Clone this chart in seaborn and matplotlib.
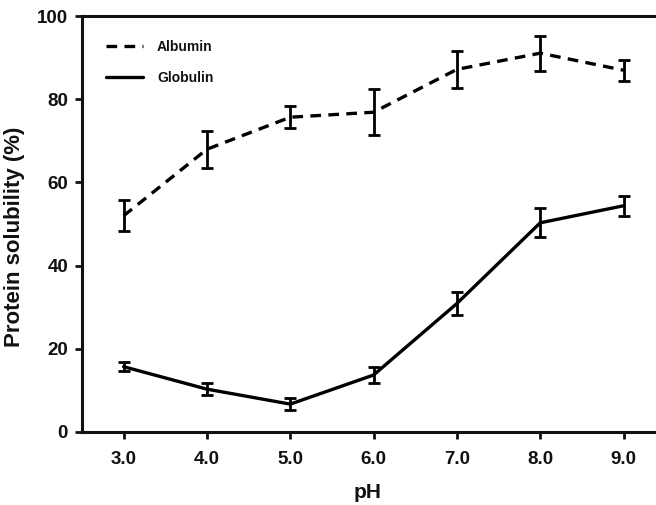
import numpy as np
import pandas as pd
import seaborn as sns
import matplotlib
matplotlib.use("Agg")
import matplotlib.pyplot as plt

ph = [3.0, 4.0, 5.0, 6.0, 7.0, 8.0, 9.0]
albumin = [52.0, 68.0, 75.7, 76.9, 87.2, 91.1, 87.0]
albumin_err = [3.7, 4.5, 2.7, 5.5, 4.5, 4.2, 2.5]
globulin = [15.7, 10.3, 6.7, 13.7, 30.9, 50.3, 54.4]
globulin_err = [1.1, 1.5, 1.5, 2.0, 2.7, 3.5, 2.4]
series_names = ["Albumin", "Globulin"]
x_ticks = [3.0, 4.0, 5.0, 6.0, 7.0, 8.0, 9.0]
y_ticks = [0, 20, 40, 60, 80, 100]

sns.set_theme(style="white")
plt.rcParams["font.family"] = ["Liberation Sans", "DejaVu Sans"]
plt.rcParams["font.weight"] = "bold"

df = pd.DataFrame({
    "pH": ph * 2,
    "solubility": albumin + globulin,
    "Protein": [series_names[0]] * len(ph) + [series_names[1]] * len(ph),
})

fig = plt.figure(figsize=(6.56, 5.05), dpi=100)
ax = fig.add_axes([0.125, 0.1446, 0.889, 0.8234])

sns.lineplot(data=df, x="pH", y="solubility", style="Protein",
             dashes={"Albumin": (3.2, 2.2), "Globulin": ""},
             color="black", linewidth=2.4, ax=ax, legend=True)

for vals, errs in [(albumin, albumin_err), (globulin, globulin_err)]:
    ax.errorbar(ph, vals, yerr=errs, fmt="none", ecolor="black",
                elinewidth=2.0, capsize=4.5, capthick=2.0, zorder=3)

ax.set_xlim(2.5, 9.5)
ax.set_ylim(0, 100)
ax.set_xticks(x_ticks)
ax.set_xticklabels([f"{v:.1f}" for v in x_ticks])
ax.set_yticks(y_ticks)
ax.tick_params(axis="both", which="major", direction="out", length=5,
               width=2, color="#111111", labelsize=13.5, pad=5,
               labelcolor="#111111", bottom=True, left=True)
ax.tick_params(axis="x", pad=9)
for lbl in ax.get_xticklabels() + ax.get_yticklabels():
    lbl.set_fontweight("bold")

for side in ["left", "bottom", "top"]:
    ax.spines[side].set_linewidth(2.2)
    ax.spines[side].set_color("#111111")
ax.spines["right"].set_visible(False)

ax.set_xlabel("pH", fontsize=15, fontweight="bold", color="#111111")
ax.set_ylabel("Protein solubility (%)", fontsize=16, fontweight="bold",
              color="#111111")
ax.yaxis.set_label_coords(-0.098, 0.47)
ax.xaxis.set_label_coords(0.49, -0.122)

leg = ax.legend(loc="upper left", frameon=False,
                handlelength=2.7, handletextpad=1.0, borderaxespad=1.3,
                labelspacing=1.25, prop={"weight": "bold", "size": 10})
for h in leg.get_lines():
    h.set_linewidth(2.4)
for t in leg.get_texts():
    t.set_color("#111111")

fig.savefig("out.png", dpi=100)
